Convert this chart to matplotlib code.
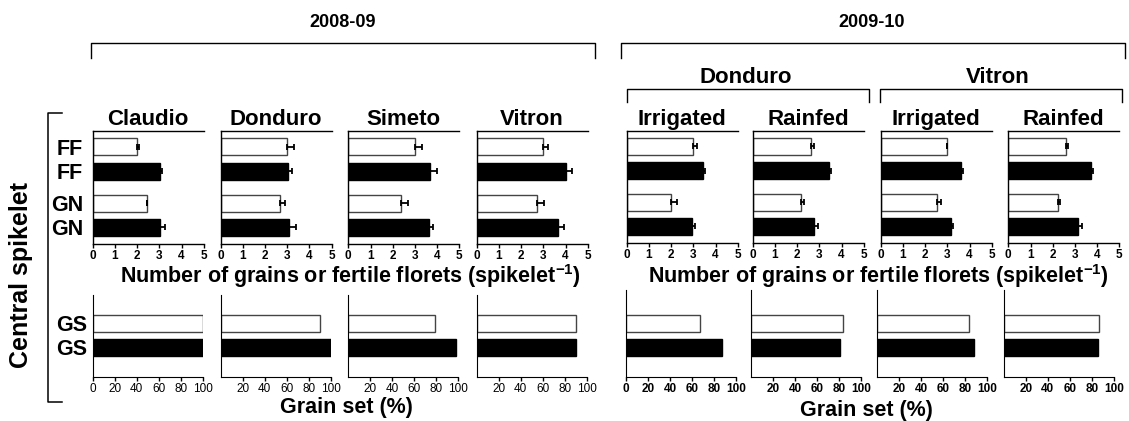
import matplotlib
matplotlib.use("Agg")
import matplotlib.pyplot as plt
from matplotlib.lines import Line2D
import numpy as np

plt.rcParams['font.family'] = ['Liberation Sans', 'DejaVu Sans']
plt.rcParams['mathtext.default'] = 'bf'
plt.rcParams['mathtext.fontset'] = 'custom'
plt.rcParams['mathtext.bf'] = 'Liberation Sans:bold'
plt.rcParams['mathtext.rm'] = 'Liberation Sans:bold'

# ---------------- data ----------------
row_labels_top = ["FF", "FF", "GN", "GN"]
row_labels_bot = ["GS", "GS"]

panels_0809 = ["Claudio", "Donduro", "Simeto", "Vitron"]
panels_0910 = ["Irrigated", "Rainfed", "Irrigated", "Rainfed"]
groups_0910 = ["Donduro", "Vitron"]

# order: FF white, FF black, GN white, GN black
vals_0809 = [
    [2.00, 3.02, 2.44, 3.02],
    [2.97, 3.02, 2.67, 3.06],
    [3.00, 3.68, 2.39, 3.63],
    [3.00, 4.00, 2.73, 3.65],
]
errs_0809 = [
    [0.09, 0.10, 0.02, 0.23],
    [0.35, 0.20, 0.24, 0.33],
    [0.30, 0.30, 0.32, 0.20],
    [0.20, 0.30, 0.30, 0.30],
]
vals_0910 = [
    [3.00, 3.42, 2.01, 2.96],
    [2.63, 3.45, 2.19, 2.78],
    [3.00, 3.62, 2.52, 3.17],
    [2.60, 3.72, 2.22, 3.15],
]
errs_0910 = [
    [0.15, 0.09, 0.24, 0.12],
    [0.12, 0.09, 0.13, 0.15],
    [0.00, 0.08, 0.18, 0.10],
    [0.09, 0.08, 0.10, 0.18],
]
# grain set: white, black
gs_0809 = [[100, 100], [90, 100], [78.7, 97.6], [90.7, 90.7]]
gs_0910 = [[67.3, 87.0], [83.3, 81.2], [83.9, 87.8], [86.3, 85.4]]

top_ticks = [0, 1, 2, 3, 4, 5]
bot_ticks_first = [0, 20, 40, 60, 80, 100]
bot_ticks_other = [20, 40, 60, 80, 100]

# ---------------- layout ----------------
W, H = 1129, 421
fig = plt.figure(figsize=(W / 100, H / 100), dpi=100)


def rect(left, top, width, bottom):
    return [left / W, 1 - bottom / H, width / W, (bottom - top) / H]


def fx(x):
    return x / W


def fy(y):
    return 1 - y / H


def fline(xs, ys, lw=1.0):
    fig.add_artist(Line2D([fx(x) for x in xs], [fy(y) for y in ys],
                          color='black', lw=lw, transform=fig.transFigure))


top_pos = [0, 1, 2.31, 3.29]
bot_pos = [0, 1]
bar_h = 0.69

tops_0809 = [92.7, 220.7, 348.3, 476.7]
tops_0910 = [626.7, 752.7, 880.7, 1008.3]
bots_0910 = [626.0, 751.0, 877.0, 1003.7]

tick_kw = dict(labelsize=8.5, length=3, width=1, pad=1.5)


def top_panel(left, top, bottom, vals, errs, title, first):
    ax = fig.add_axes(rect(left, top, 111, bottom))
    colors = ['white', 'black', 'white', 'black']
    edges = ['#444444', 'black', '#444444', 'black']
    ax.barh(top_pos, vals, height=bar_h, color=colors, edgecolor=edges,
            linewidth=1.0, zorder=2)
    ax.errorbar(vals, top_pos, xerr=[np.zeros(len(vals)), errs], fmt='none',
                ecolor='black', elinewidth=1.3, capsize=2, capthick=1.3, zorder=3)
    ax.set_xlim(0, 5)
    ax.set_ylim(3.97, -0.64)
    ax.set_xticks(top_ticks)
    ax.set_xticklabels([str(t) for t in top_ticks], fontweight='bold')
    ax.tick_params(axis='x', **tick_kw)
    if first:
        ax.set_yticks(top_pos)
        ax.set_yticklabels(row_labels_top, fontsize=15.5, fontweight='bold')
        ax.tick_params(axis='y', length=0, pad=7)
    else:
        ax.set_yticks([])
    ax.spines['right'].set_visible(False)
    for s in ['left', 'bottom', 'top']:
        ax.spines[s].set_linewidth(1.0)
    ax.set_title(title, fontsize=16, fontweight='bold', pad=4)
    return ax


def bot_panel(left, top, bottom, vals, first, bold, ytop):
    ax = fig.add_axes(rect(left, top, 110, bottom))
    ax.barh(bot_pos, vals, height=bar_h, color=['white', 'black'],
            edgecolor=['#444444', 'black'], linewidth=1.0, zorder=2)
    ax.set_xlim(0, 100)
    ax.set_ylim(2.22, ytop)
    ticks = bot_ticks_first if first else bot_ticks_other
    ax.set_xticks(ticks)
    ax.set_xticklabels([str(t) for t in ticks],
                       fontweight='bold' if bold else 'normal')
    ax.tick_params(axis='x', **tick_kw)
    ax.spines['right'].set_visible(False)
    ax.spines['top'].set_visible(False)
    if first and not bold:
        ax.set_yticks(bot_pos)
        ax.set_yticklabels(row_labels_bot, fontsize=15.5, fontweight='bold')
        ax.tick_params(axis='y', length=0, pad=4)
    else:
        ax.set_yticks([])
    return ax


for i in range(4):
    top_panel(tops_0809[i], 131, 244, vals_0809[i], errs_0809[i],
              panels_0809[i], i == 0)
    top_panel(tops_0910[i], 130.5, 243, vals_0910[i], errs_0910[i],
              panels_0910[i], False)
    bot_panel(tops_0809[i], 295, 376.7, gs_0809[i], i == 0, False, -1.18)
    bot_panel(bots_0910[i], 290, 376.7, gs_0910[i], i == 0, True, -1.39)

# ---------------- annotations ----------------
fig.text(fx(343), fy(27), "2008-09", fontsize=13, fontweight='bold',
         ha='center', va='baseline')
fig.text(fx(872), fy(27), "2009-10", fontsize=13, fontweight='bold',
         ha='center', va='baseline')
fline([91, 91, 595, 595], [58, 43, 43, 58])
fline([620.5, 620.5, 1124.5, 1124.5], [58, 43, 43, 58])

fig.text(fx(746), fy(83), groups_0910[0], fontsize=16, fontweight='bold',
         ha='center', va='baseline')
fig.text(fx(998), fy(83), groups_0910[1], fontsize=16, fontweight='bold',
         ha='center', va='baseline')
fline([627, 627, 869, 869], [101.5, 89, 89, 101.5])
fline([880, 880, 1121.5, 1121.5], [101.5, 88.5, 88.5, 101.5])

xlab = r"Number of grains or fertile florets (spikelet$^{\mathbf{-1}}$)"
fig.text(fx(350), fy(283), xlab, fontsize=15.5, fontweight='bold',
         ha='center', va='baseline')
fig.text(fx(878), fy(283), xlab, fontsize=15.5, fontweight='bold',
         ha='center', va='baseline')
fig.text(fx(346.5), fy(413), "Grain set (%)", fontsize=15.5, fontweight='bold',
         ha='center', va='baseline')
fig.text(fx(866.5), fy(416), "Grain set (%)", fontsize=15.5, fontweight='bold',
         ha='center', va='baseline')

fig.text(fx(21.5), fy(275), "Central spikelet", fontsize=18, fontweight='bold',
         rotation=90, ha='center', va='center')
fline([61.7, 48.3, 48.3, 61.7], [112.7, 112.7, 402.3, 402.3], lw=1.1)

fig.savefig("out.png", dpi=100)
